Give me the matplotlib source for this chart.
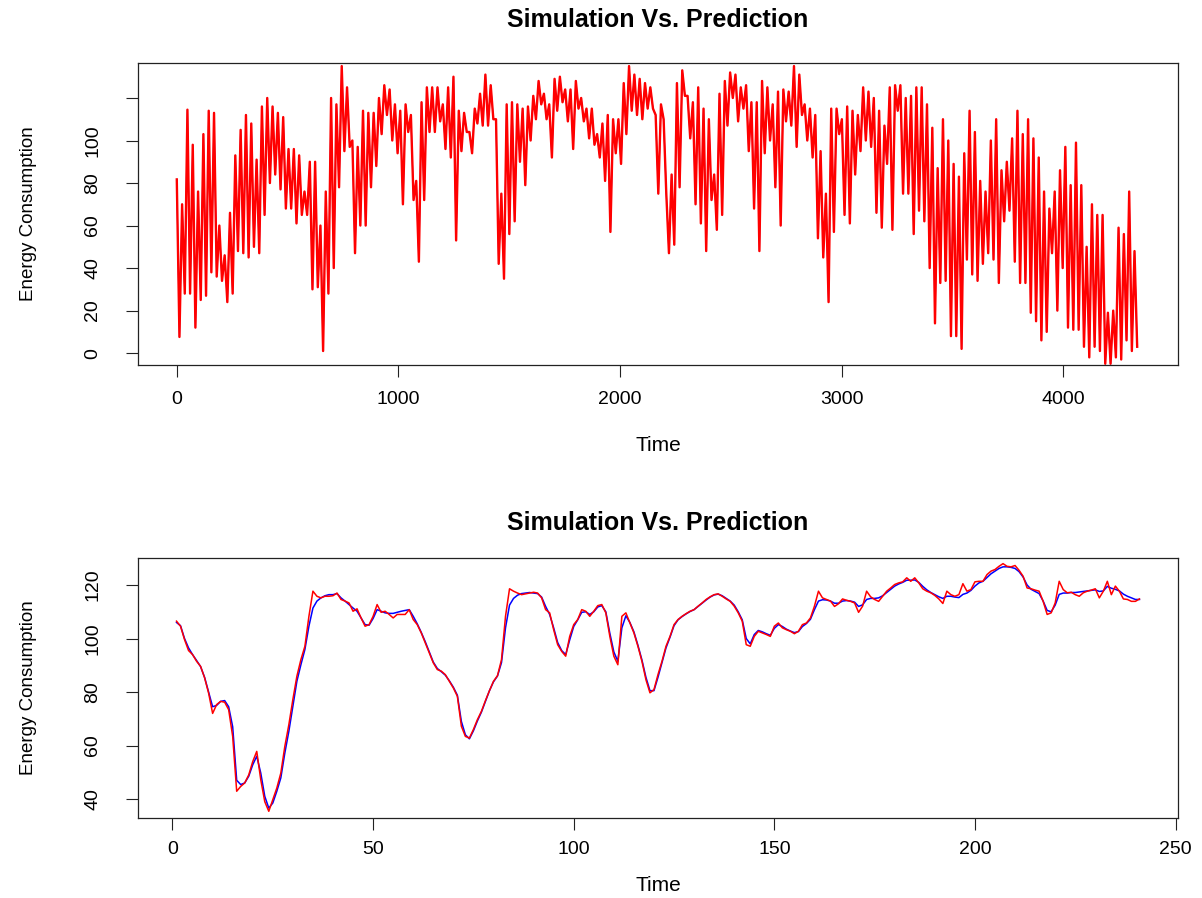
import numpy as np
import matplotlib
matplotlib.use("Agg")
import matplotlib.pyplot as plt

plt.rcParams['font.family'] = ['Liberation Sans', 'DejaVu Sans']

# Oberes Diagramm: ganze Zeitreihe (alle 12 Zeitschritte ein Wert)
top_step = 12
top_values = [
    81.7, 7.6, 70, 28, 114.5, 28, 98, 12, 76, 25, 103, 27, 114, 38, 113, 36, 60, 34, 46, 24,
    66, 28, 93, 48, 105, 47, 112, 45, 108, 50, 91, 47, 116, 65, 120, 80, 116, 84, 113, 77,
    111, 68, 96, 68, 96, 61, 93, 65, 76, 65, 90, 30, 90, 31, 60, 1, 76, 28, 120, 40,
    117, 78, 135, 95, 125, 97, 100, 47, 97, 60, 114, 60, 113, 78, 113, 88, 120, 103, 126, 112,
    124, 100, 117, 94, 114, 70, 117, 104, 112, 72, 81, 43, 118, 72, 125, 104, 125, 104, 125, 109,
    117, 96, 125, 92, 130, 53, 114, 95, 113, 104, 104, 94, 115, 108, 122, 107, 131, 107, 126, 110,
    110, 42, 75, 35, 117, 56, 118, 62, 117, 90, 115, 79, 116, 100, 121, 110, 128, 117, 122, 110,
    117, 92, 129, 114, 130, 118, 124, 109, 124, 96, 128, 115, 120, 109, 115, 101, 115, 98, 103, 92,
    108, 81, 112, 57, 110, 94, 110, 89, 127, 103, 135, 114, 131, 112, 129, 110, 127, 115, 125, 115,
    112, 75, 117, 110, 75, 47, 84, 51, 127, 78, 133, 121, 121, 101, 118, 70, 125, 61, 115, 48,
    110, 72, 84, 58, 122, 65, 128, 107, 132, 120, 131, 109, 125, 115, 126, 95, 118, 68, 118, 48,
    128, 94, 125, 100, 117, 78, 123, 60, 124, 109, 123, 107, 135, 97, 131, 112, 117, 100, 115, 92,
    112, 54, 95, 45, 75, 24, 115, 57, 115, 103, 110, 65, 116, 61, 114, 84, 112, 95, 125, 100,
    123, 97, 120, 66, 114, 59, 107, 89, 125, 58, 126, 114, 126, 75, 120, 75, 121, 56, 125, 67,
    125, 62, 117, 40, 106, 14, 87, 33, 110, 34, 100, 8, 89, 8, 83, 2, 94, 44, 114, 37,
    104, 34, 81, 42, 76, 47, 100, 44, 110, 33, 86, 62, 90, 67, 101, 43, 114, 33, 103, 33,
    110, 19, 101, 15, 92, 6, 76, 10, 68, 47, 76, 20, 86, 40, 97, 12, 79, 11, 99, 11,
    79, 3, 50, -2, 70, 3, 65, 1, 65, -5, 19, -5, 20, -2, 59, -3, 56, 6, 76, 1,
    48, 3,
]

# Unteres Diagramm: Ausschnitt mit 241 Zeitpunkten
sim_values = [
    106.5, 104.6, 99.6, 95.5, 94.0, 91.5, 89.6, 85.3, 79.6, 72.0,
    75.3, 76.5, 76.2, 73.4, 63.4, 42.9, 44.7, 46.0, 49.0, 54.0,
    57.8, 47.2, 39.0, 35.4, 39.8, 44.1, 49.7, 59.7, 67.8, 77.2,
    85.9, 92.1, 97.1, 108.3, 117.7, 115.8, 115.2, 115.8, 115.8, 116.0,
    117.0, 114.6, 114.0, 113.3, 110.2, 111.1, 107.7, 104.6, 105.2, 108.3,
    112.7, 109.8, 110.2, 109.0, 107.7, 109.0, 109.0, 109.0, 110.8, 107.1,
    105.2, 102.1, 98.4, 94.6, 90.9, 88.4, 87.8, 86.5, 84.0, 81.5,
    78.4, 67.2, 63.4, 62.8, 66.0, 69.7, 72.8, 76.8, 80.5, 84.0,
    86.1, 92.1, 108.3, 118.6, 117.7, 117.0, 116.4, 116.7, 117.0, 117.3,
    117.0, 115.2, 110.8, 109.6, 103.3, 97.7, 95.2, 93.4, 100.8, 105.2,
    107.1, 110.8, 110.2, 108.3, 110.2, 112.3, 112.7, 109.6, 100.8, 93.4,
    90.2, 108.3, 109.6, 105.8, 102.1, 97.1, 91.5, 84.6, 79.7, 80.9,
    86.5, 91.5, 97.1, 100.8, 105.2, 107.1, 108.3, 109.3, 110.2, 110.8,
    112.1, 113.3, 114.6, 115.6, 116.4, 116.7, 115.8, 114.8, 113.9, 112.1,
    109.6, 106.5, 97.7, 97.1, 100.8, 102.7, 102.1, 101.5, 100.8, 104.6,
    105.8, 104.0, 103.3, 102.7, 101.8, 102.7, 105.2, 105.8, 107.7, 112.1,
    117.7, 115.2, 114.6, 114.0, 112.0, 113.0, 114.8, 114.3, 113.9, 113.3,
    109.8, 112.1, 117.7, 115.6, 114.6, 113.9, 115.8, 117.7, 118.9, 120.2,
    120.8, 121.2, 122.7, 121.4, 122.7, 120.8, 118.6, 117.7, 117.1, 116.1,
    114.8, 113.1, 117.7, 116.4, 115.8, 116.4, 120.5, 117.7, 118.3, 121.2,
    121.4, 121.4, 123.9, 125.2, 125.8, 127.0, 128.0, 127.0, 126.8, 127.3,
    125.5, 123.3, 118.9, 118.6, 118.1, 117.7, 113.9, 109.0, 109.6, 113.3,
    121.4, 118.3, 117.1, 117.3, 116.4, 115.8, 117.1, 117.7, 118.1, 118.6,
    115.2, 117.7, 121.4, 116.4, 119.6, 117.7, 114.8, 114.6, 113.9, 113.9, 114.8,
]

pred_values = [
    106.0, 104.8, 100.0, 96.5, 94.0, 91.8, 89.5, 85.5, 80.0, 74.5,
    75.0, 76.5, 76.8, 74.5, 67.0, 47.0, 45.4, 46.0, 48.5, 52.8,
    56.0, 49.7, 41.0, 36.6, 38.5, 42.9, 47.9, 57.2, 65.3, 74.7,
    84.0, 90.2, 95.9, 104.6, 111.4, 114.0, 115.2, 116.0, 116.4, 116.4,
    116.8, 115.2, 114.0, 112.7, 111.4, 110.2, 107.7, 105.2, 105.0, 107.5,
    110.8, 110.2, 109.6, 109.4, 109.4, 109.8, 110.2, 110.5, 110.8, 108.3,
    105.5, 102.3, 98.8, 95.0, 91.2, 88.8, 87.6, 86.3, 84.2, 81.8,
    78.8, 69.0, 64.0, 62.5, 65.5, 69.2, 72.5, 76.5, 80.5, 83.8,
    86.0, 91.0, 104.0, 112.5, 115.0, 116.2, 116.8, 117.0, 117.2, 117.0,
    116.8, 115.5, 112.0, 109.0, 104.0, 98.5, 95.5, 94.0, 99.5, 104.5,
    107.0, 109.8, 110.0, 109.0, 110.0, 111.8, 112.3, 110.0, 102.0, 95.0,
    91.5, 104.0, 108.5, 106.0, 102.5, 97.5, 92.0, 85.5, 80.5, 80.5,
    85.5, 91.0, 96.5, 100.5, 104.8, 107.0, 108.2, 109.2, 110.1, 110.8,
    112.0, 113.2, 114.4, 115.5, 116.3, 116.6, 116.0, 115.0, 114.0, 112.5,
    110.0, 107.0, 100.0, 98.0, 101.5, 103.0, 102.5, 101.8, 101.2, 103.8,
    105.2, 104.5, 103.5, 102.8, 102.2, 102.6, 104.5, 105.6, 107.2, 110.8,
    114.0, 114.5, 114.4, 114.0, 113.2, 113.2, 114.0, 114.2, 114.0, 113.6,
    112.0, 112.6, 114.6, 115.0, 115.0, 115.2, 116.0, 117.2, 118.4, 119.6,
    120.4, 121.0, 121.8, 121.8, 121.9, 121.0, 119.5, 118.2, 117.2, 116.4,
    115.6, 115.0, 115.8, 115.8, 115.5, 115.3, 116.5, 117.0, 118.0, 119.6,
    120.8, 121.4, 122.8, 124.2, 125.2, 126.2, 126.8, 126.8, 126.6, 126.2,
    125.0, 123.0, 120.0, 118.4, 117.6, 116.8, 114.0, 110.5, 110.0, 112.5,
    116.5, 117.0, 117.0, 117.2, 117.2, 117.4, 117.6, 117.8, 118.0, 118.2,
    117.6, 117.8, 119.5, 118.8, 118.4, 117.8, 116.6, 115.8, 115.2, 114.6, 114.6,
]

top_xticks = [0, 1000, 2000, 3000, 4000]
top_yticks = [0, 20, 40, 60, 80, 100, 120]
top_ylabels = ['0', '20', '40', '60', '80', '100', '']
bottom_xticks = [0, 50, 100, 150, 200, 250]
bottom_yticks = [40, 60, 80, 100, 120]


def style_axes(ax):
    for sp in ax.spines.values():
        sp.set_linewidth(0.9)
        sp.set_color('#222222')
    ax.tick_params(direction='out', length=8.6, width=0.8, labelsize=14, color='#222222')
    ax.tick_params(axis='x', pad=10)
    ax.tick_params(axis='y', pad=18)


fig = plt.figure(figsize=(12.02, 8.98), dpi=100)

# oben
ax1 = fig.add_axes([0.1148, 0.5935, 0.8652, 0.3367])
t_top = np.arange(len(top_values)) * top_step + 1
ax1.plot(t_top, top_values, color='blue', lw=0.8)
ax1.plot(t_top, top_values, color='red', lw=1.7)
ax1.set_xlim(-174, 4517)
ax1.set_ylim(-5.6, 136.6)
ax1.set_xticks(top_xticks)
ax1.set_yticks(top_yticks)
ax1.set_yticklabels(top_ylabels, rotation=90, va='center')
style_axes(ax1)
ax1.set_title('Simulation Vs. Prediction', fontsize=18, fontweight='bold', pad=26)
ax1.set_xlabel('Time', fontsize=15)
ax1.set_ylabel('Energy Consumption', fontsize=13.5)
ax1.xaxis.set_label_coords(0.5, -0.235)
ax1.yaxis.set_label_coords(-0.097, 0.5)

# unten
ax2 = fig.add_axes([0.1148, 0.0891, 0.8652, 0.2895])
t_bot = np.arange(1, len(sim_values) + 1)
ax2.plot(t_bot, pred_values, color='blue', lw=1.1)
ax2.plot(t_bot, sim_values, color='red', lw=1.1)
ax2.set_xlim(-8.6, 250.6)
ax2.set_ylim(32.9, 130.1)
ax2.set_xticks(bottom_xticks)
ax2.set_yticks(bottom_yticks)
ax2.set_yticklabels([str(v) for v in bottom_yticks], rotation=90, va='center')
style_axes(ax2)
ax2.tick_params(axis='x', pad=8)
ax2.set_title('Simulation Vs. Prediction', fontsize=18, fontweight='bold', pad=20)
ax2.set_xlabel('Time', fontsize=15)
ax2.set_ylabel('Energy Consumption', fontsize=13.5)
ax2.xaxis.set_label_coords(0.5, -0.225)
ax2.yaxis.set_label_coords(-0.097, 0.5)

fig.savefig('out.png', dpi=100)
